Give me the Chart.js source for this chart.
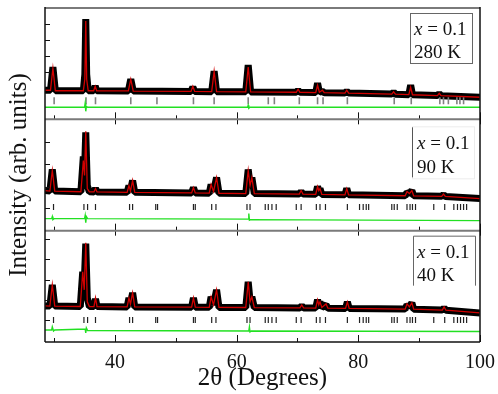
<!DOCTYPE html>
<html>
<head>
<meta charset="utf-8">
<script src="https://cdn.jsdelivr.net/npm/chart.js@4.4.1/dist/chart.umd.min.js"></script>
<style>
  html, body { margin: 0; padding: 0; background: #fff; }
</style>
</head>
<body>
<canvas id="xrd" width="498" height="394"></canvas>
<script>
// 2θ axis ticks
const xMajor = [40, 60, 80, 100];
const xMinor = [30, 50, 70, 90];

// inner intensity ticks of each panel (arb. units)
const yTicks280 = [47, 63, 79, 95];
const yTicks90 = [23, 44, 66, 88];
const yTicks40 = [22, 42, 62, 83, 103];

// panel labels
const sampleX = ["0.1", "0.1", "0.1"];
const temps = ["280 K", "90 K", "40 K"];

// 280 K: observed, calculated, difference, Bragg positions
const obs280 = [[28.5,29],[29.4,29],[29.8,52],[30.2,28.5],
  [34.8,28.5],[35.05,45],[35.2,100],[35.35,45],[35.6,28.5],
  [36.5,28.5],[36.75,33],[37.0,28.5],[42.2,28.3],[42.6,40],[43.0,28.2],
  [52.5,27.8],[52.8,32],[53.1,27.8],[55.9,27.6],[56.3,48],[56.7,27.6],
  [61.5,27.4],[61.9,54],[62.3,27.3],[69.8,27],[70.1,29],[70.4,27],
  [73.0,26.7],[73.3,36],[73.6,27],[74.1,28],[74.4,26.6],
  [77.8,26.2],[78.1,28],[78.4,26.2],[85.5,25.2],[85.8,27],[86.1,25.1],
  [88.3,24.6],[88.6,34],[88.9,24.5],[93.0,23.7],[93.3,25.5],[93.6,23.6],[100,22]];
const calc280 = [[28.5,29],[29.4,29],[29.8,51],[30.2,28.5],
  [34.8,28.5],[35.05,40],[35.2,98],[35.35,40],[35.6,28.5],
  [36.5,28.5],[36.75,33],[37.0,28.5],[42.2,28.3],[42.6,40],[43.0,28.2],
  [52.5,27.8],[52.8,33],[53.1,27.8],[55.9,27.6],[56.3,48],[56.7,27.6],
  [61.5,27.4],[61.9,52],[62.3,27.3],[69.8,27],[70.1,30],[70.4,27],
  [73.0,26.7],[73.3,34],[73.6,27],[74.1,29],[74.4,26.6],
  [77.8,26.2],[78.1,29],[78.4,26.2],[85.5,25.2],[85.8,27.5],[86.1,25.1],
  [88.3,24.6],[88.6,32],[88.9,24.5],[93.0,23.7],[93.3,26],[93.6,23.6],[100,22]];
const diff280 = [[28.5,12],[35.0,12],[35.1,16],[35.2,8],[35.3,13],[35.5,12],
  [61.8,12],[61.9,14],[62.0,11],[62.2,12],[100,12]];
const bragg280 = [30.0, 35.24, 36.8, 42.6, 46.9, 52.9, 56.3, 61.9, 65.2, 66.2, 70.3,
  73.3, 74.2, 78.2, 85.9, 88.7, 93.4, 94.0, 94.8, 96.2, 96.7, 97.3];

// 90 K
const obs90 = [[28.5,40],[29.3,39.5],[29.7,61],[30.1,39.5],
  [34.4,38.8],[34.8,74],[35.0,60],[35.2,98],[35.45,45],[35.8,38.7],
  [36.55,38.6],[36.8,42],[37.05,38.6],[42.0,38.2],[42.3,45],[42.55,40],[42.9,50],[43.25,38.2],
  [52.6,37.6],[52.9,43],[53.2,37.6],[55.5,37.4],[55.8,46],[56.2,39],[56.7,53],[57.1,37.3],
  [61.5,37],[61.9,61],[62.2,46],[62.5,53],[62.9,37],[70.3,36.5],[70.6,39],[70.9,36.5],
  [73.0,36.2],[73.3,44],[73.5,40],[73.7,42],[74.0,36.1],[77.8,35.7],[78.1,42],[78.4,35.7],
  [87.7,34.8],[88.0,38],[88.4,37],[88.8,40],[89.1,34.7],[93.7,34.2],[94.0,36],[94.3,34.1],[100,32]];
const calc90 = [[28.5,40],[29.3,39.5],[29.7,60],[30.1,39.5],
  [34.4,38.8],[34.8,70],[35.0,55],[35.2,99],[35.45,42],[35.8,38.7],
  [36.55,38.6],[36.8,42],[37.05,38.6],[42.0,38.2],[42.3,45],[42.55,39.5],[42.9,50],[43.25,38.2],
  [52.6,37.6],[52.9,43],[53.2,37.6],[55.5,37.4],[55.8,46],[56.2,39],[56.7,53],[57.1,37.3],
  [61.5,37],[61.9,60],[62.2,45],[62.5,53],[62.9,37],[70.3,36.5],[70.6,40],[70.9,36.5],
  [73.0,36.2],[73.3,44],[73.5,40],[73.7,42],[74.0,36.1],[77.8,35.7],[78.1,42],[78.4,35.7],
  [87.7,34.8],[88.0,39],[88.4,37],[88.8,40],[89.1,34.7],[93.7,34.2],[94.0,36.5],[94.3,34.1],[100,32]];
const diff90 = [[28.5,12],[29.6,12],[29.7,14],[29.8,11],[30.0,12],[35.0,12],[35.1,15],[35.2,8],
  [35.3,14],[35.5,12],[61.9,11.5],[62.0,17],[62.1,10.5],[62.3,11],[100,10]];

// 40 K
const obs40 = [[28.5,36],[29.3,35.8],[29.7,57],[30.1,35.8],
  [34.3,35.4],[34.7,70],[34.95,58],[35.2,98],[35.45,44],[35.8,35.3],
  [36.55,35.3],[36.8,43],[37.05,35.3],[42.0,35],[42.3,44],[42.55,38],[42.9,49],[43.25,35],
  [52.6,34.7],[52.9,44],[53.2,34.7],[55.5,34.6],[55.8,45],[56.2,37],[56.7,52],[57.1,34.5],
  [61.5,34.4],[61.9,60],[62.2,41],[62.5,45],[62.9,34.3],[70.4,34],[70.7,36],[71.0,34],
  [73.0,33.8],[73.3,42],[73.5,37],[73.7,40],[74.0,34.5],[74.7,37],[75.0,33.7],
  [77.9,33.5],[78.2,40],[78.5,33.5],[87.7,32.8],[88.0,37],[88.4,35],[88.8,39],[89.1,32.7],
  [93.8,31.8],[94.1,34],[94.4,31.7],[100,29]];
const calc40 = [[28.5,36],[29.3,35.8],[29.7,57],[30.1,35.8],
  [34.3,35.4],[34.7,70],[34.95,52],[35.2,99],[35.45,40],[35.8,35.3],
  [36.55,35.3],[36.8,44],[37.05,35.3],[42.0,35],[42.3,44],[42.55,38],[42.9,49],[43.25,35],
  [52.6,34.7],[52.9,44],[53.2,34.7],[55.5,34.6],[55.8,45],[56.2,37],[56.7,52],[57.1,34.5],
  [61.5,34.4],[61.9,60],[62.2,40],[62.5,45],[62.9,34.3],[70.4,34],[70.7,37],[71.0,34],
  [73.0,33.8],[73.3,42],[73.5,37],[73.7,40],[74.0,34.5],[74.7,38],[75.0,33.7],
  [77.9,33.5],[78.2,40],[78.5,33.5],[87.7,32.8],[88.0,38],[88.4,35],[88.8,39],[89.1,32.7],
  [93.8,31.8],[94.1,35],[94.4,31.7],[100,29]];
const diff40 = [[28.5,12],[29.6,12],[29.7,15],[29.9,11],[30.1,12],[35.1,13],[35.2,9],
  [35.3,14],[35.5,11.5],[62.0,11],[62.1,15],[62.2,10],[62.4,11],[100,10.5]];

// Bragg positions at low temperature (90 K and 40 K)
const braggLowT = [29.9, 34.9, 35.5, 36.8, 42.4, 42.9, 46.7, 47.0, 52.9, 53.2, 55.9, 56.6,
  61.7, 62.2, 64.7, 65.2, 65.8, 66.5, 69.8, 70.6, 73.1, 73.7, 74.6, 78.2, 80.2, 80.8,
  81.3, 81.7, 85.5, 85.9, 86.4, 88.0, 88.5, 88.9, 89.4, 92.4, 94.2, 95.7, 96.3, 96.8, 97.3, 97.8];
// level of the Bragg tick row in each panel
const braggRow = [18.5, 23.5, 22];

const SERIF = '"Liberation Serif", "Times New Roman", serif';
Chart.defaults.font.family = SERIF;
Chart.defaults.color = "#111";

const pts = arr => arr.map(([x, y]) => ({x, y}));

function obsSet(data, axis) {
  return {data: pts(data), yAxisID: axis, showLine: true, borderColor: "#000",
    borderWidth: 7, borderJoinStyle: "bevel", pointRadius: 0, order: 2, clip: 0};
}
function calcSet(data, axis) {
  return {data: pts(data), yAxisID: axis, showLine: true, borderColor: "#d10000",
    borderWidth: 1.3, pointRadius: 0, order: 1, clip: 0};
}
function diffSet(data, axis) {
  return {data: pts(data), yAxisID: axis, showLine: true, borderColor: "#22e022",
    borderWidth: 1.4, pointRadius: 0, order: 1, clip: 0};
}
function braggSet(pos, level, axis, color, half, w) {
  return {data: pos.map(x => ({x, y: level})), yAxisID: axis, showLine: false,
    pointStyle: "line", pointRotation: 90, pointRadius: half, pointBorderColor: color,
    pointBorderWidth: w, order: 1, clip: 0};
}

function panelAxis(weight, ticks, title) {
  return {
    type: "linear", position: "left", stack: "panels", stackWeight: 1, weight: weight,
    min: 0, max: 111,
    afterFit: s => { s.width = 45; },
    afterBuildTicks: s => { s.ticks = ticks.map(v => ({value: v})); },
    ticks: {display: false},
    grid: {display: false},
    border: {display: false},
    title: title
      ? {display: true, text: title, font: {size: 25}, color: "#111", padding: {top: 4, bottom: 0}}
      : {display: false}
  };
}

function line(ctx, x1, y1, x2, y2) {
  ctx.beginPath(); ctx.moveTo(x1, y1); ctx.lineTo(x2, y2); ctx.stroke();
}

const framePlugin = {
  id: "frame",
  afterDatasetsDraw(chart) {
    const {ctx, chartArea: a, scales} = chart;
    const xs = scales.x;
    const panels = [scales.yTop, scales.yMid, scales.yBot];
    ctx.save();
    ctx.strokeStyle = "#111";
    ctx.lineWidth = 1;
    panels.forEach((s, i) => {
      s.ticks.forEach(t => {
        const y = Math.round(s.getPixelForValue(t.value)) + 0.5;
        line(ctx, a.left, y, a.left + 5, y);
      });
      const yb = s.bottom;
      const last = i === panels.length - 1;
      xMajor.forEach(v => {
        const x = Math.round(xs.getPixelForValue(v)) + 0.5;
        line(ctx, x, yb - 7, x, last ? yb : yb + 5);
      });
      xMinor.forEach(v => {
        const x = Math.round(xs.getPixelForValue(v)) + 0.5;
        line(ctx, x, yb - 4, x, yb);
      });
    });
    // top and separators in grey
    ctx.strokeStyle = "#7a7a7a";
    ctx.lineWidth = 2;
    line(ctx, a.left, a.top, a.right, a.top);
    line(ctx, a.left, scales.yMid.top, a.right, scales.yMid.top);
    line(ctx, a.left, scales.yBot.top, a.right, scales.yBot.top);
    ctx.strokeStyle = "#111";
    ctx.lineWidth = 1.5;
    line(ctx, a.left, a.top - 1, a.left, a.bottom);
    line(ctx, a.right, a.top - 1, a.right, a.bottom);
    line(ctx, a.left, a.bottom, a.right, a.bottom);
    ctx.restore();
  },
  afterDraw(chart) {
    const {ctx, chartArea: a, scales} = chart;
    const panels = [scales.yTop, scales.yMid, scales.yBot];
    ctx.save();
    ctx.fillStyle = "#111";
    ctx.textBaseline = "alphabetic";
    panels.forEach((s, i) => {
      const top = s.top;
      ctx.lineWidth = 1;
      if (i === 0) {
        ctx.strokeStyle = "#666";
        ctx.strokeRect(a.right - 69.5, top + 5.5, 62, 50);
      } else if (i === 1) {
        ctx.strokeStyle = "#ececec";
        ctx.strokeRect(a.right - 67.5, top + 7.5, 62, 52);
        ctx.strokeStyle = "#555";
        line(ctx, a.right - 67.5, top + 8, a.right - 67.5, top + 58);
      } else {
        ctx.strokeStyle = "#666";
        ctx.beginPath();
        ctx.moveTo(a.right - 66.5, top + 55);
        ctx.lineTo(a.right - 66.5, top + 5.5);
        ctx.lineTo(a.right - 4.5, top + 5.5);
        ctx.lineTo(a.right - 4.5, top + 55);
        ctx.stroke();
      }
      const tx = i === 0 ? a.right - 66 : a.right - 63;
      const b1 = top + (i === 1 ? 30 : 27);
      const b2 = top + (i === 1 ? 54 : 50);
      ctx.font = "italic 19px " + SERIF;
      ctx.fillText("x", tx, b1);
      const w = ctx.measureText("x").width;
      ctx.font = "19px " + SERIF;
      ctx.fillText(" = " + sampleX[i], tx + w, b1);
      ctx.fillText(temps[i], tx, b2);
    });
    ctx.restore();
  }
};

new Chart(document.getElementById("xrd"), {
  type: "scatter",
  data: {
    datasets: [
      obsSet(obs280, "yTop"), calcSet(calc280, "yTop"), diffSet(diff280, "yTop"),
      braggSet(bragg280, braggRow[0], "yTop", "#808080", 3.5, 1.6),
      obsSet(obs90, "yMid"), calcSet(calc90, "yMid"), diffSet(diff90, "yMid"),
      braggSet(braggLowT, braggRow[1], "yMid", "#222", 3, 1.2),
      obsSet(obs40, "yBot"), calcSet(calc40, "yBot"), diffSet(diff40, "yBot"),
      braggSet(braggLowT, braggRow[2], "yBot", "#222", 3, 1.2)
    ]
  },
  options: {
    responsive: false,
    animation: false,
    events: [],
    layout: {padding: {top: 8, right: 18, bottom: 0, left: 0}},
    plugins: {legend: {display: false}, tooltip: {enabled: false}},
    scales: {
      x: {
        type: "linear", position: "bottom", min: 28.5, max: 100,
        afterBuildTicks: s => { s.ticks = xMajor.map(v => ({value: v})); },
        afterFit: s => { s.height = 52; },
        grid: {display: false},
        border: {display: false},
        ticks: {font: {size: 20}, color: "#111", padding: 1, maxRotation: 0, autoSkip: false},
        title: {display: true, text: "2θ (Degrees)", font: {size: 25}, color: "#111",
          padding: {top: 0, bottom: 1}}
      },
      yTop: panelAxis(3, yTicks280, null),
      yMid: panelAxis(2, yTicks90, "Intensity (arb. units)"),
      yBot: panelAxis(1, yTicks40, null)
    }
  },
  plugins: [framePlugin]
});
</script>
</body>
</html>
